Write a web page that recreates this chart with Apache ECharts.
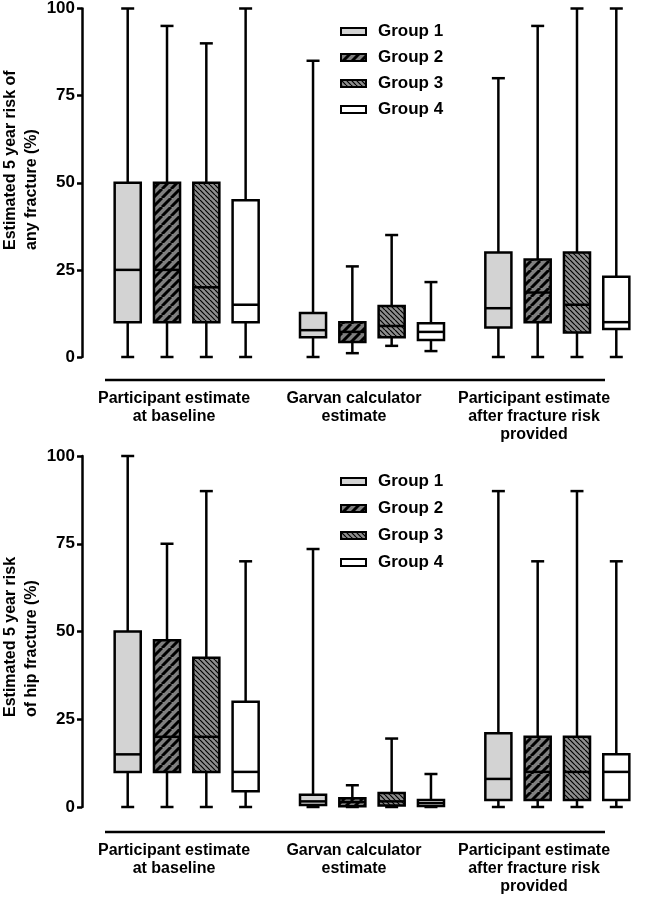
<!DOCTYPE html>
<html><head><meta charset="utf-8">
<script src="https://cdn.jsdelivr.net/npm/echarts@6/dist/echarts.min.js"></script>
<style>html,body{margin:0;padding:0;background:#fff}#c{width:650px;height:898px}</style>
</head><body><div id="c"></div>
<script>
const categories = ['Participant estimate\nat baseline', 'Garvan calculator\nestimate', 'Participant estimate\nafter fracture risk\nprovided'];
const groups = ['Group 1', 'Group 2', 'Group 3', 'Group 4'];
const yMin = 0, yMax = 100, yStep = 25;
const topTitle = 'Estimated 5 year risk of\nany fracture (%)';
const bottomTitle = 'Estimated 5 year risk\nof hip fracture (%)';

// each row: [min, Q1, median, Q3, max] for the three categories
const anyG1 = [[0, 10, 25, 50, 100], [0, 5.7, 7.7, 12.6, 85], [0, 8.5, 14, 30, 80]];
const anyG2 = [[0, 10, 25, 50, 95], [1.1, 4.3, 7.2, 10, 26], [0, 10, 18.5, 28, 95]];
const anyG3 = [[0, 10, 20, 50, 90], [3.2, 5.7, 8.9, 14.6, 35], [0, 7, 15, 30, 100]];
const anyG4 = [[0, 10, 15, 45, 100], [1.7, 4.9, 7.2, 9.7, 21.5], [0, 8, 10, 23, 100]];

const hipG1 = [[0, 10, 15, 50, 100], [0, 0.6, 1.6, 3.5, 73.5], [0, 2, 8, 21, 90]];
const hipG2 = [[0, 10, 20, 47.5, 75], [0, 0.2, 1.4, 2.5, 6.2], [0, 2, 10, 20, 70]];
const hipG3 = [[0, 10, 20, 42.5, 90], [0, 0.4, 1.6, 4, 19.5], [0, 2, 10, 20, 90]];
const hipG4 = [[0, 4.5, 10, 30, 70], [0, 0.3, 1.1, 2, 9.4], [0, 2, 10, 15, 70]];

function stripe(bg, size, lw, dir) {
  const c = document.createElement('canvas');
  c.width = c.height = size;
  const x = c.getContext('2d');
  x.fillStyle = bg; x.fillRect(0, 0, size, size);
  x.strokeStyle = '#000'; x.lineWidth = lw; x.beginPath();
  for (let k = -1; k <= 1; k++) {
    if (dir > 0) { x.moveTo(k * size, size); x.lineTo(k * size + size, 0); }
    else { x.moveTo(k * size, 0); x.lineTo(k * size + size, size); }
  }
  x.stroke();
  return { image: c, repeat: 'repeat' };
}
const fills = ['#d3d3d3', stripe('#808080', 9, 3, 1), stripe('#8e8e8e', 5, 1.2, -1), '#ffffff'];

function makeRender(g) {
  return function (params, api) {
    const ci = api.value(0);
    const band = api.size([1, 0])[0];
    const avail = band * 0.8 - 2, gap = avail / 4 * 0.3, bw = (avail - 3 * gap) / 4;
    const cx = api.coord([ci, 0])[0] + bw / 2 - avail / 2 + g * (gap + bw);
    const y = k => api.coord([ci, api.value(k)])[1];
    const pMin = y(1), pQ1 = y(2), pMed = y(3), pQ3 = y(4), pMax = y(5);
    const w = bw * 0.92, cap = 13, lw = 2.5;
    const ls = { stroke: '#000', lineWidth: lw };
    return { type: 'group', children: [
      { type: 'line', shape: { x1: cx, y1: pQ3, x2: cx, y2: pMax }, style: ls },
      { type: 'line', shape: { x1: cx, y1: pQ1, x2: cx, y2: pMin }, style: ls },
      { type: 'line', shape: { x1: cx - cap / 2, y1: pMax, x2: cx + cap / 2, y2: pMax }, style: ls },
      { type: 'line', shape: { x1: cx - cap / 2, y1: pMin, x2: cx + cap / 2, y2: pMin }, style: ls },
      { type: 'rect', shape: { x: cx - w / 2, y: pQ3, width: w, height: pQ1 - pQ3 }, style: { fill: fills[g], stroke: '#000', lineWidth: lw } },
      { type: 'line', shape: { x1: cx - w / 2, y1: pMed, x2: cx + w / 2, y2: pMed }, style: ls }
    ] };
  };
}

const FONT = "'Liberation Sans', Arial, sans-serif";
function panelSeries(arrs, axisIdx) {
  return arrs.map((arr, g) => ({
    type: 'custom', name: groups[g], xAxisIndex: axisIdx, yAxisIndex: axisIdx,
    renderItem: makeRender(g), silent: true,
    itemStyle: { color: fills[g], borderColor: '#000', borderWidth: 2 },
    encode: { x: 0, y: [1, 2, 3, 4, 5] },
    data: arr.map((v, i) => [i].concat(v))
  }));
}
function valueAxis(gi) {
  return {
    gridIndex: gi, type: 'value', min: yMin, max: yMax, interval: yStep, offset: 12,
    axisLine: { show: true, lineStyle: { color: '#000', width: 2.5 } },
    axisTick: { show: true, length: 5, lineStyle: { color: '#000', width: 2.5 } },
    axisLabel: { color: '#000', fontSize: 17, fontWeight: 'bold', fontFamily: FONT, margin: 7 },
    splitLine: { show: false }
  };
}
function boxXAxis(gi) {
  return { gridIndex: gi, type: 'category', data: categories, boundaryGap: true,
    axisLine: { show: false }, axisTick: { show: false }, axisLabel: { show: false } };
}
function labelXAxis(gi) {
  return { gridIndex: gi, type: 'category', data: categories, position: 'bottom',
    axisLine: { show: false }, axisTick: { show: false },
    axisLabel: { interval: 0, margin: 10, color: '#000', fontSize: 16, fontWeight: 'bold', fontFamily: FONT, lineHeight: 18 } };
}
function hiddenY(gi) { return { gridIndex: gi, type: 'value', show: false }; }
function legend(top, gap) {
  return { data: groups, orient: 'vertical', left: 335, top: top, itemWidth: 25, itemHeight: 7, itemGap: gap,
    icon: 'rect', selectedMode: false,
    itemStyle: { borderColor: '#000', borderWidth: 2 },
    textStyle: { color: '#000', fontSize: 17, fontWeight: 'bold', fontFamily: FONT, padding: [0, 0, 0, 7] } };
}

const chart = echarts.init(document.getElementById('c'), null, { renderer: 'canvas' });
chart.setOption({
  animation: false,
  backgroundColor: '#fff',
  grid: [
    { left: 94, right: -6, top: 7, height: 350 },
    { left: 84, right: 26, top: 379, height: 1 },
    { left: 94, right: -6, top: 456, height: 351 },
    { left: 84, right: 26, top: 831, height: 1 }
  ],
  xAxis: [boxXAxis(0), labelXAxis(1), boxXAxis(2), labelXAxis(3)],
  yAxis: [valueAxis(0), hiddenY(1), valueAxis(2), hiddenY(3)],
  legend: [legend(18, 9), legend(468, 10)],
  graphic: [
    { type: 'line', shape: { x1: 105, y1: 380, x2: 605, y2: 380 }, style: { stroke: '#000', lineWidth: 2.5 } },
    { type: 'line', shape: { x1: 105, y1: 832, x2: 605, y2: 832 }, style: { stroke: '#000', lineWidth: 2.5 } },
    { type: 'text', x: 0, y: 250, rotation: Math.PI / 2,
      style: { text: topTitle, fill: '#000', fontSize: 16, fontWeight: 'bold', fontFamily: FONT, lineHeight: 21, align: 'left', verticalAlign: 'top' } },
    { type: 'text', x: 0, y: 717, rotation: Math.PI / 2,
      style: { text: bottomTitle, fill: '#000', fontSize: 16, fontWeight: 'bold', fontFamily: FONT, lineHeight: 21, align: 'left', verticalAlign: 'top' } }
  ],
  series: panelSeries([anyG1, anyG2, anyG3, anyG4], 0).concat(panelSeries([hipG1, hipG2, hipG3, hipG4], 2))
});
</script></body></html>
